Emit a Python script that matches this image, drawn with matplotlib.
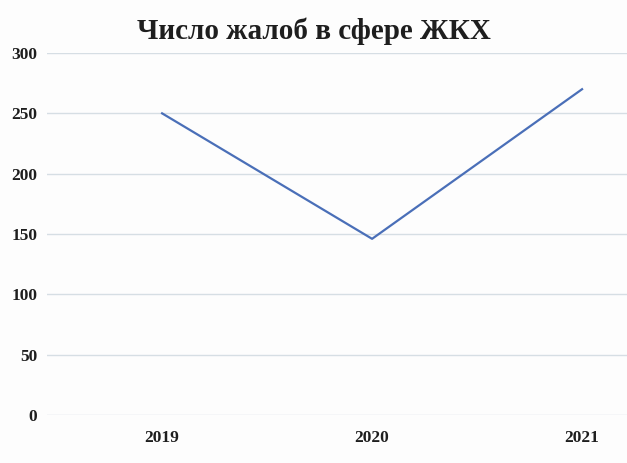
import matplotlib.pyplot as plt

# Data
years = ['2019', '2020', '2021']
complaints = [250, 146, 270]
y_ticks = [0, 50, 100, 150, 200, 250, 300]

plt.rcParams['font.family'] = ['Liberation Serif', 'DejaVu Serif']

fig = plt.figure(figsize=(6.27, 4.63), dpi=100, facecolor='#fdfdfd')
ax = fig.add_axes([0.075, 0.1037, 0.925, 0.7818], facecolor='#fdfdfd')

x = list(range(len(years)))
ax.plot(x, complaints, color='#4a6fb8', linewidth=1.6)

ax.set_xlim(-0.548, 2.214)
ax.set_ylim(0, 300)
ax.set_xticks(x)
ax.set_xticklabels(years, fontsize=12.5, fontweight='bold', color='#1e1e1e')
ax.set_yticks(y_ticks)
ax.set_yticklabels([str(t) for t in y_ticks], fontsize=12.5, fontweight='bold', color='#1e1e1e')

ax.grid(axis='y', color='#d6dee4', linewidth=1.0)
ax.set_axisbelow(True)
ax.tick_params(length=0)
ax.tick_params(axis='x', pad=11)
ax.tick_params(axis='y', pad=7)
for s in ax.spines.values():
    s.set_visible(False)

fig.text(0.5, 0.933, 'Число жалоб в сфере ЖКХ', ha='center', va='center',
         fontsize=21, fontweight='bold', color='#1e1e1e')

fig.savefig('out.png', dpi=100, facecolor=fig.get_facecolor())
